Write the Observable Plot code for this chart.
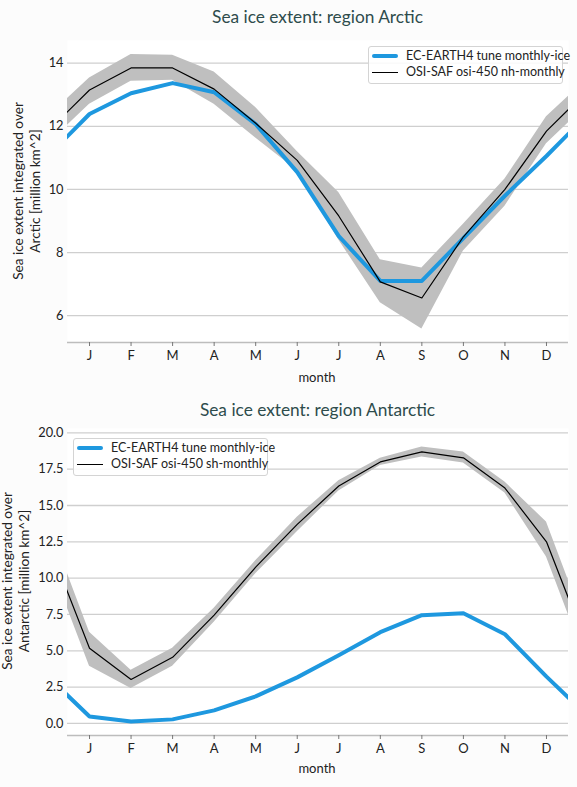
<!DOCTYPE html>
<html><head><meta charset="utf-8">
<script src="https://cdn.jsdelivr.net/npm/d3@7"></script>
<script src="https://cdn.jsdelivr.net/npm/@observablehq/plot@0.6"></script>
<style>
body{margin:0;background:#fcfcfc;font-family:Lato,"Open Sans",sans-serif;}
#wrap{position:relative;width:577px;height:787px;overflow:hidden;}
.abs{position:absolute;white-space:nowrap;}
.title{font-size:17.3px;color:#2e4c4c;width:501px;text-align:center;left:67px;}
.ylab{font-size:13.6px;color:#222;text-align:center;line-height:17px;transform:translate(-50%,-50%) rotate(-90deg);}
.xlab{font-size:13px;color:#222;transform:translateX(-50%);}
.legend{border:1px solid #d4d4d4;border-radius:3px;background:rgba(255,255,255,0.85);font-size:12.5px;color:#222;}
.legend .row{position:absolute;left:0;height:16px;}
.legend .sw{position:absolute;left:3px;width:26px;}
.legend .tx{position:absolute;left:37px;line-height:16px;}
</style>
</head><body><div id="wrap"></div>
<script>
const months = ["J","F","M","A","M","J","J","A","S","O","N","D"];
const monthNums = [1,2,3,4,5,6,7,8,9,10,11,12];

const arcticModel  = [12.39,13.05,13.37,13.08,12.07,10.55,8.52,7.10,7.10,8.46,9.80,11.06];
const arcticObs    = [13.15,13.85,13.85,13.18,12.10,10.92,9.16,7.07,6.56,8.50,10.00,11.85];
const arcticObsMin = [12.70,13.43,13.46,12.70,11.63,10.60,8.40,6.41,5.58,8.05,9.47,11.45];
const arcticObsMax = [13.53,14.28,14.25,13.72,12.60,11.20,9.90,7.77,7.51,8.90,10.33,12.30];

const antModel  = [0.48,0.14,0.28,0.90,1.86,3.17,4.69,6.28,7.45,7.59,6.14,3.22];
const antObs    = [5.17,3.03,4.55,7.45,10.76,13.70,16.34,18.00,18.69,18.28,16.20,12.50];
const antObsMin = [3.93,2.41,3.93,6.97,10.30,13.20,16.00,17.75,18.34,17.93,15.86,11.45];
const antObsMax = [6.28,3.66,5.17,7.93,11.20,14.20,16.70,18.25,19.03,18.69,16.62,13.86];

const arcticTicks = [6,8,10,12,14];
const antTicks = [0,2.5,5,7.5,10,12.5,15,17.5,20];

const modelName = "EC-EARTH4 tune monthly-ice";
const arcticObsName = "OSI-SAF osi-450 nh-monthly";
const antObsName = "OSI-SAF osi-450 sh-monthly";

const BLUE = "#1e98df";
const FONT = 'Lato, "Open Sans", sans-serif';

// wrap around: month 0 = Dec, month 13 = Jan
function wrapRows(model, obs, lo, hi) {
  const idx = [11,0,1,2,3,4,5,6,7,8,9,10,11,0];
  return idx.map((k, i) => ({m: i, model: model[k], obs: obs[k], lo: lo[k], hi: hi[k]}));
}

const wrap = document.getElementById("wrap");
function add(html, cls, style) {
  const d = document.createElement("div");
  d.className = "abs " + cls;
  Object.assign(d.style, style);
  d.innerHTML = html;
  wrap.appendChild(d);
  return d;
}

function panel(opts) {
  const rows = wrapRows(opts.model, opts.obs, opts.lo, opts.hi);
  const fmt = opts.decimals ? d3.format(".1f") : d3.format("d");
  const chart = Plot.plot({
    width: 577, height: opts.height,
    marginLeft: 67, marginRight: 9, marginTop: opts.mt, marginBottom: opts.mb,
    style: {fontFamily: FONT, fontSize: "12.8px", color: "#222", background: "transparent"},
    x: {domain: [0.47, 12.53]},
    y: {domain: opts.ydom},
    marks: [
      Plot.frame({fill: "white", stroke: "none"}),
      Plot.gridY(opts.yticks, {stroke: "#cfcfcf", strokeOpacity: 1, strokeWidth: 1.3}),
      Plot.areaY(rows, {x: "m", y1: "lo", y2: "hi", fill: "#bfbfbf", clip: true}),
      Plot.lineY(rows, {x: "m", y: "model", stroke: BLUE, strokeWidth: 4, clip: true}),
      Plot.lineY(rows, {x: "m", y: "obs", stroke: "black", strokeWidth: 1.2, clip: true}),
      Plot.ruleY([opts.ydom[0]], {stroke: "#bdbdbd", strokeWidth: 1.5}),
      Plot.axisX(monthNums, {tickFormat: d => months[d - 1], tickSize: 4, tickPadding: 4, stroke: "#777", fontSize: "13px", label: null}),
      Plot.axisY(opts.yticks, {tickFormat: fmt, tickSize: 0, tickPadding: 4, label: null})
    ]
  });
  chart.style.position = "absolute";
  chart.style.left = "0px";
  chart.style.top = opts.top + "px";
  wrap.appendChild(chart);
}

// Panel 1: Arctic
add("Sea ice extent: region Arctic", "title", {top: "6px"});
panel({model: arcticModel, obs: arcticObs, lo: arcticObsMin, hi: arcticObsMax,
  ydom: [5.15, 14.72], yticks: arcticTicks, top: 30, height: 360, mt: 10, mb: 48, decimals: false});
add("Sea ice extent integrated over<br>Arctic [million km^2]", "ylab", {left: "27px", top: "191px"});
add("month", "xlab", {left: "317px", top: "369px"});

// Panel 2: Antarctic
add("Sea ice extent: region Antarctic", "title", {top: "399px"});
panel({model: antModel, obs: antObs, lo: antObsMin, hi: antObsMax,
  ydom: [-0.83, 20.3], yticks: antTicks, top: 420, height: 367, mt: 8, mb: 52, decimals: true});
add("Sea ice extent integrated over<br>Antarctic [million km^2]", "ylab", {left: "16px", top: "581px"});
add("month", "xlab", {left: "317px", top: "760px"});

function legend(left, top, obsName) {
  const lg = add("", "legend", {left: left + "px", top: top + "px", width: "193px", height: "36px"});
  lg.innerHTML =
    `<div class="row" style="top:1px;width:193px"><div class="sw" style="top:6px;height:4px;background:${BLUE};border-radius:2px"></div><div class="tx">${modelName}</div></div>` +
    `<div class="row" style="top:17px;width:193px"><div class="sw" style="top:7.5px;height:1.2px;background:black"></div><div class="tx">${obsName}</div></div>`;
}
legend(368, 46, arcticObsName);
legend(73, 438, antObsName);
</script></body></html>
